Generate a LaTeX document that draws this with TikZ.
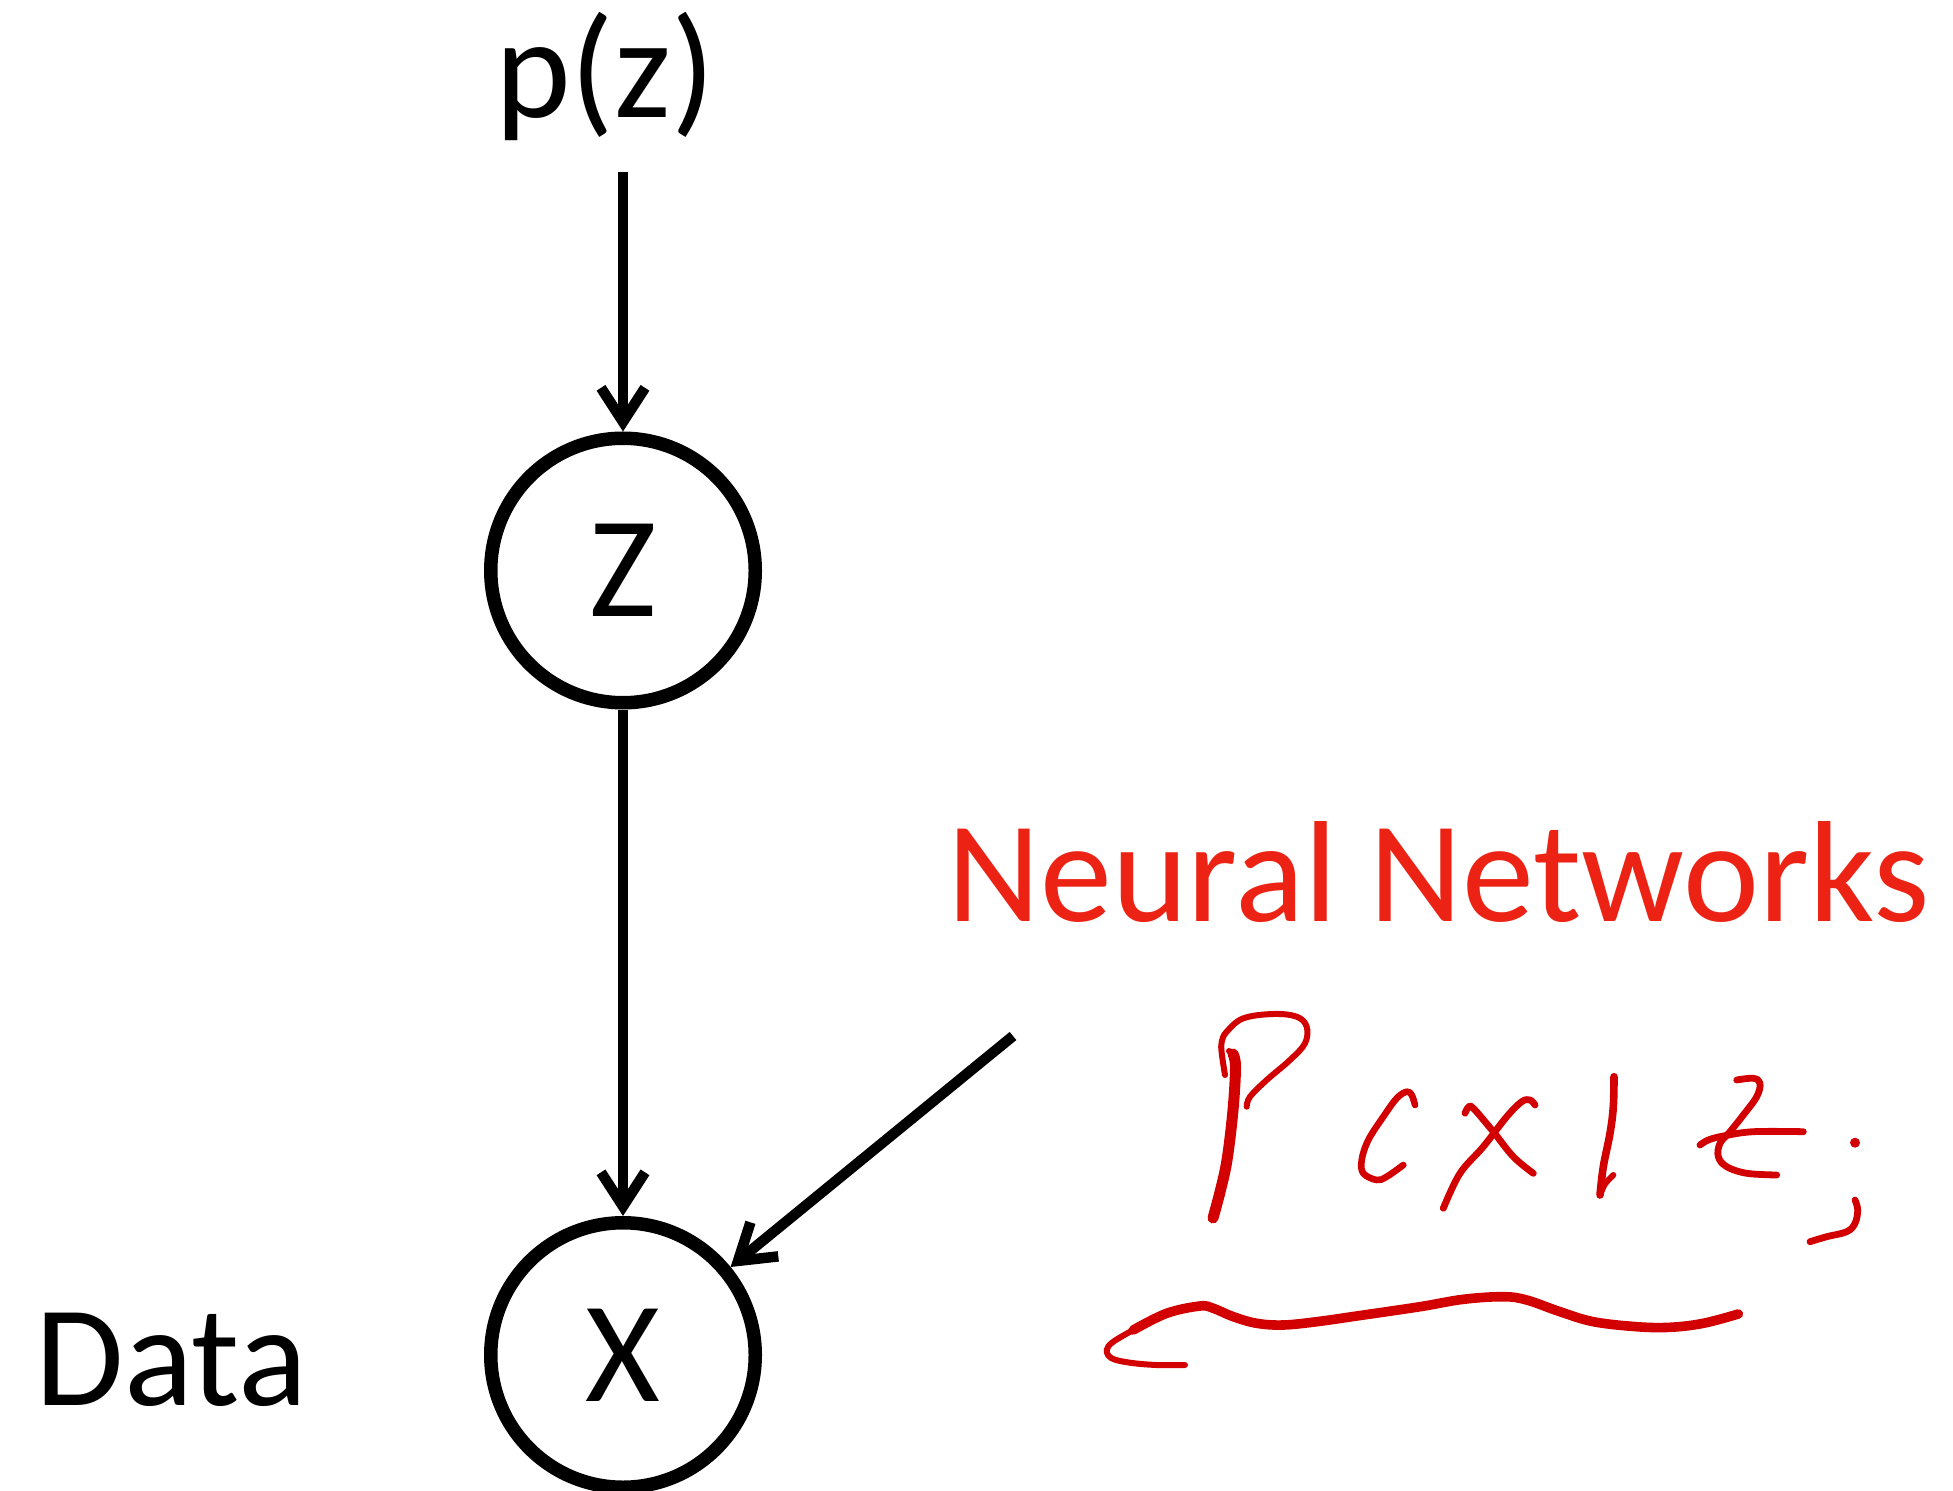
\documentclass[tikz,border=0pt]{standalone}
\usepackage{fontspec}
\setmainfont{Carlito}
\usetikzlibrary{arrows.meta}
\definecolor{nnred}{RGB}{236,34,20}
\definecolor{inkred}{RGB}{210,0,0}
\newcommand{\diagfont}{\fontsize{72pt}{86pt}\selectfont}
\tikzset{
  txt/.style={inner sep=0pt, font=\diagfont},
  latent/.style={circle, draw, line width=6.75pt, minimum size=132.25pt,
                 inner sep=0pt, font=\diagfont},
  conn/.style={line width=5.25pt, -{Straight Barb[length=17pt,width=22pt]}},
  ink/.style={inkred, line cap=round, line join=round},
}
\begin{document}
\begin{tikzpicture}[x=0.5pt, y=-0.5pt]
\useasboundingbox (0,0) rectangle (1953,1491);

% graphical model
\node[txt, anchor=base] (pz) at (605,118) {p(z)};
\node[latent] (z) at (623,570.5) {Z};
\node[latent] (x) at (623,1355) {X};
\node[txt, anchor=base] (data) at (171.5,1405) {Data};
\node[txt, anchor=base, text=nnred] (nn) at (1438.5,921.7) {Neural Networks};

\coordinate (pztail) at (623,172);
\coordinate (nntail) at (1013,1036);
\draw[conn] (pztail) -- (z);
\draw[conn] (z) -- (x);
\draw[conn] (nntail) -- (x);

% handwritten P(x|z;
% P: stem and bowl
\draw[ink, line width=5.5pt] plot[smooth, tension=0.6] coordinates
  {(1233,1054) (1235.5,1067) (1233,1110) (1227,1160) (1220,1192) (1213,1218)};
\draw[ink, line width=3pt] plot[smooth, tension=0.6] coordinates
  {(1229,1051) (1236,1058) (1238,1070)};
\draw[ink, line width=3pt] plot[smooth, tension=0.6] coordinates
  {(1225,1075) (1221.7,1053) (1221.7,1041.7) (1226.7,1031.7) (1243.3,1018.3)
   (1273.3,1014) (1296.7,1016.7) (1306.7,1026.7) (1305,1043.3) (1290,1060)
   (1266.7,1080) (1250,1096.7) (1246.7,1106.7)};
% (
\draw[ink, line width=3.3pt] plot[smooth, tension=0.6] coordinates
  {(1415,1105) (1411.7,1095) (1406.7,1091.7) (1396.7,1098.3) (1383.3,1116.7)
   (1368.3,1140) (1361.7,1160) (1363.3,1173.3) (1376.7,1180) (1386.7,1176.7)
   (1403.3,1165)};
% x
\draw[ink, line width=3.4pt] plot[smooth, tension=0.6] coordinates
  {(1465,1113.3) (1468.3,1107.3) (1473.3,1108.3) (1493.3,1131.7)
   (1513.3,1156.7) (1533.3,1173.3)};
\draw[ink, line width=3.4pt] plot[smooth, tension=0.6] coordinates
  {(1535,1105) (1530,1100) (1521.7,1101.7) (1506.7,1116.7) (1483.3,1146.7)
   (1460,1173.3) (1443.3,1208.3)};
% |
\draw[ink, line width=3.8pt] plot[smooth, tension=0.6] coordinates
  {(1614,1076.7) (1613.3,1106.7) (1610,1133.3) (1603.3,1166.7) (1600,1195)};
\draw[ink, line width=3pt] plot[smooth, tension=0.6] coordinates
  {(1600,1195) (1605,1184) (1613.3,1175)};
% z
\draw[ink, line width=3.4pt] plot[smooth, tension=0.6] coordinates
  {(1736.7,1080) (1753.3,1078.3) (1760,1083.3) (1756.7,1096.7) (1743.3,1115)
   (1730,1131.7) (1720,1143.3) (1718.3,1156.7) (1726.7,1166.7) (1746.7,1173.3)
   (1776.7,1175)};
\draw[ink, line width=3.4pt] plot[smooth, tension=0.6] coordinates
  {(1700,1145) (1708.3,1140) (1723.3,1136) (1753.3,1131.7) (1803.3,1131.7)};
% ;
\fill[inkred] (1855,1142.7) circle[radius=5];
\draw[ink, line width=3.4pt] plot[smooth, tension=0.6] coordinates
  {(1855,1200) (1857.7,1210) (1855,1223.3) (1846.7,1231.7) (1826.7,1236.7)
   (1810,1241.7)};

% brace-like underline
\draw[ink, line width=3pt] plot[smooth, tension=0.6] coordinates
  {(1185,1365) (1156.7,1365) (1130,1362.7) (1111.7,1358.3) (1106.7,1350)
   (1113.3,1341.7) (1133.3,1330)};
\draw[ink, line width=4.8pt] plot[smooth, tension=0.6] coordinates
  {(1133.3,1330) (1166.7,1313.3) (1200,1306) (1213.3,1308.3) (1233.3,1316.7)
   (1256.7,1323.3) (1283.3,1325) (1316.7,1321.7) (1356.7,1316) (1420,1306.7)
   (1463.3,1299.3) (1503.3,1296.7) (1526.7,1300) (1560,1311.7) (1593.3,1321.7)
   (1636.7,1326.7) (1670,1327.3) (1703.3,1323.3) (1738.3,1314)};
\end{tikzpicture}
\end{document}
